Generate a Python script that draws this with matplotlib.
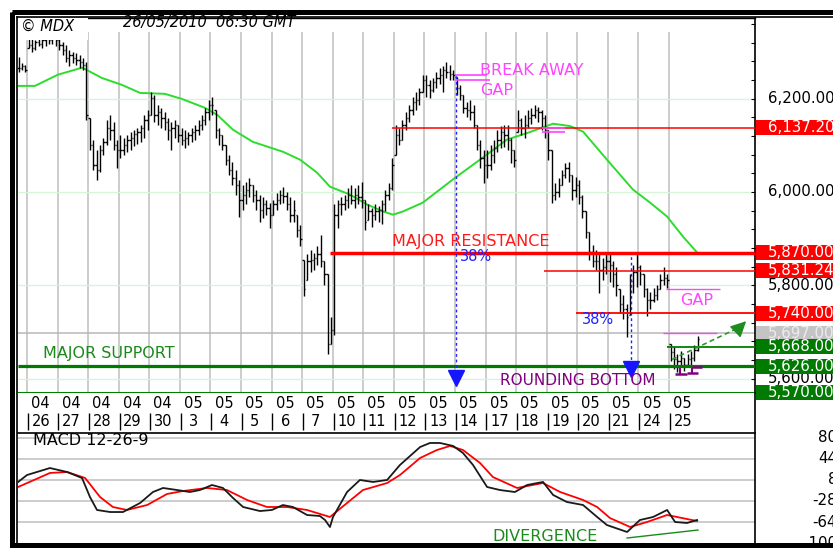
import numpy as np
import matplotlib
matplotlib.use("Agg")
import matplotlib.pyplot as plt
from matplotlib.patches import Rectangle
from matplotlib.transforms import blended_transform_factory

plt.rcParams["font.family"] = "DejaVu Sans"

# ---- data --------------------------------------------------------------
month_labels = ["04", "04", "04", "04", "04", "05", "05", "05", "05", "05", "05",
                "05", "05", "05", "05", "05", "05", "05", "05", "05", "05", "05"]
day_labels = ["26", "27", "28", "29", "30", "3", "4", "5", "6", "7", "10",
              "11", "12", "13", "14", "17", "18", "19", "20", "21", "24", "25"]

# hourly bars, 9 per day; Apr 23 only shows its last three bars
bar_high = [
    6289, 6276, 6272,                                        # Apr 23
    6336, 6330, 6325, 6336, 6334, 6338, 6340, 6347, 6343,    # Apr 26
    6330, 6321, 6315, 6304, 6300, 6298, 6293, 6287, 6278,    # Apr 27
    6159, 6112, 6090, 6101, 6116, 6154, 6165, 6150, 6112,    # Apr 28
    6122, 6116, 6122, 6129, 6133, 6137, 6144, 6165, 6176,    # Apr 29
    6214, 6208, 6186, 6180, 6171, 6159, 6150, 6154, 6144,    # Apr 30
    6137, 6133, 6129, 6137, 6144, 6154, 6165, 6180, 6197,    # May 3
    6204, 6176, 6137, 6122, 6101, 6079, 6064, 6047, 6026,    # May 4
    6015, 6022, 6030, 6015, 6005, 5994, 5988, 5983, 5977,    # May 5
    5983, 5998, 6005, 6011, 6000, 5988, 5983, 5951, 5930,    # May 6
    5855, 5866, 5876, 5870, 5883, 5908, 5851, 5823, 5731,    # May 7
    5973, 5983, 5990, 5994, 6009, 6015, 6009, 6015, 6022,    # May 10
    5983, 5973, 5966, 5973, 5970, 5983, 6005, 6020, 6073,    # May 11
    6144, 6137, 6154, 6171, 6186, 6204, 6214, 6223, 6251,    # May 12
    6251, 6240, 6244, 6257, 6266, 6270, 6278, 6272, 6261,    # May 13
    6246, 6229, 6208, 6193, 6197, 6186, 6144, 6112, 6090,    # May 14
    6090, 6101, 6112, 6133, 6141, 6144, 6144, 6116, 6090,    # May 17
    6176, 6159, 6165, 6176, 6180, 6186, 6182, 6176, 6165,    # May 18
    6133, 6090, 6020, 6030, 6047, 6062, 6064, 6037, 6032,    # May 19
    6026, 5994, 5958, 5915, 5887, 5876, 5866, 5859, 5872,    # May 20
    5866, 5851, 5838, 5791, 5780, 5759, 5823, 5844, 5872,    # May 21
    5844, 5823, 5795, 5786, 5795, 5801, 5823, 5840, 5823,    # May 24
    5673, 5667, 5652, 5658, 5645, 5652, 5658, 5671, 5692,    # May 25
]
bar_low = [
    6257, 6261, 6257,
    6308, 6300, 6304, 6313, 6308, 6313, 6317, 6317, 6313,
    6304, 6293, 6278, 6270, 6276, 6272, 6266, 6261, 6154,
    6090, 6047, 6026, 6043, 6079, 6101, 6112, 6090, 6052,
    6073, 6079, 6086, 6090, 6099, 6103, 6107, 6116, 6133,
    6165, 6150, 6144, 6137, 6133, 6112, 6090, 6116, 6107,
    6101, 6094, 6101, 6107, 6112, 6122, 6133, 6144, 6154,
    6165, 6116, 6101, 6090, 6058, 6037, 6015, 5994, 5947,
    5962, 5973, 5988, 5979, 5962, 5936, 5945, 5951, 5923,
    5951, 5962, 5973, 5977, 5962, 5936, 5936, 5904, 5883,
    5776, 5812, 5829, 5833, 5844, 5838, 5801, 5652, 5673,
    5694, 5923, 5951, 5962, 5966, 5973, 5966, 5973, 5966,
    5919, 5940, 5925, 5940, 5936, 5932, 5958, 5983, 6005,
    6079, 6101, 6112, 6133, 6150, 6165, 6176, 6186, 6214,
    6204, 6201, 6214, 6223, 6231, 6214, 6244, 6240, 6240,
    6208, 6197, 6169, 6161, 6154, 6137, 6090, 6052, 6020,
    6030, 6047, 6062, 6086, 6094, 6097, 6090, 6062, 6054,
    6129, 6122, 6116, 6137, 6146, 6159, 6150, 6133, 6116,
    6069, 5977, 5983, 5990, 6015, 6030, 6022, 5983, 5988,
    5973, 5945, 5902, 5855, 5838, 5833, 5784, 5812, 5823,
    5806, 5797, 5776, 5741, 5727, 5690, 5737, 5784, 5797,
    5801, 5774, 5733, 5748, 5763, 5769, 5791, 5801, 5795,
    5637, 5620, 5615, 5624, 5617, 5624, 5626, 5637, 5658,
]
bar_close = [
    6266, 6270, 6261,
    6315, 6308, 6321, 6317, 6325, 6330, 6325, 6334, 6325,
    6315, 6304, 6287, 6293, 6287, 6283, 6278, 6272, 6165,
    6101, 6058, 6047, 6090, 6107, 6137, 6133, 6101, 6090,
    6090, 6101, 6112, 6116, 6124, 6129, 6137, 6154, 6165,
    6201, 6165, 6171, 6159, 6150, 6133, 6137, 6144, 6122,
    6112, 6116, 6122, 6129, 6133, 6144, 6154, 6171, 6186,
    6186, 6133, 6122, 6101, 6069, 6047, 6030, 6015, 5983,
    5994, 6005, 6015, 5994, 5983, 5962, 5973, 5966, 5951,
    5973, 5983, 5994, 5992, 5973, 5951, 5962, 5919, 5898,
    5791, 5851, 5855, 5859, 5866, 5851, 5823, 5673, 5705,
    5951, 5973, 5973, 5983, 5994, 5983, 5994, 5988, 5983,
    5936, 5958, 5951, 5958, 5962, 5973, 5994, 6009, 6058,
    6122, 6112, 6144, 6159, 6176, 6193, 6197, 6214, 6240,
    6229, 6218, 6236, 6244, 6251, 6261, 6257, 6253, 6251,
    6223, 6208, 6180, 6176, 6171, 6144, 6101, 6073, 6058,
    6058, 6079, 6094, 6112, 6129, 6122, 6112, 6090, 6069,
    6154, 6137, 6144, 6159, 6165, 6176, 6171, 6159, 6133,
    6090, 5994, 6000, 6015, 6037, 6052, 6037, 6005, 6015,
    5988, 5958, 5915, 5872, 5851, 5851, 5833, 5838, 5851,
    5844, 5823, 5801, 5759, 5748, 5731, 5808, 5829, 5838,
    5823, 5791, 5769, 5769, 5780, 5791, 5812, 5816, 5812,
    5656, 5641, 5637, 5645, 5630, 5641, 5645, 5662, 5684,
]

# moving average (green), x in trading-day units
ma_day = [-0.29, 0.26, 1.01, 1.80, 1.96, 2.45, 3.11, 3.70, 4.51, 5.07, 5.82, 6.22,
          6.74, 7.39, 8.37, 8.93, 9.49, 9.91, 10.57, 11.12, 11.65, 11.97, 12.30,
          12.95, 14.00, 14.82, 15.70, 16.36, 17.21, 17.76, 18.19, 18.97, 19.82,
          20.38, 20.94, 21.46, 21.92]
ma_value = [6227, 6227, 6251, 6266, 6261, 6244, 6229, 6212, 6210, 6199, 6180, 6165,
            6133, 6107, 6086, 6069, 6041, 6011, 5994, 5973, 5958, 5951, 5958,
            5977, 6030, 6069, 6112, 6126, 6146, 6141, 6129, 6069, 6005,
            5977, 5947, 5904, 5870]

# MACD 12-26-9
macd_day = [-0.29, 0.00, 0.75, 1.31, 1.80, 2.06, 2.29, 2.72, 3.14, 3.70, 4.12, 4.45,
            4.91, 5.33, 5.66, 6.05, 6.41, 6.74, 7.07, 7.62, 8.01, 8.37, 8.70, 9.16,
            9.58, 9.75, 9.91, 10.01, 10.47, 10.89, 11.32, 11.78, 12.20, 12.86, 13.18,
            13.51, 13.94, 14.26, 14.59, 15.05, 15.47, 15.96, 16.36, 16.88, 17.21,
            17.66, 18.19, 18.65, 18.97, 19.63, 20.05, 20.48, 20.94, 21.20, 21.59, 21.92]
macd_value = [4.6, 16.5, 28.5, 21.7, 11.4, -21.2, -43.4, -46.9, -46.9, -31.4, -12.6, -5.7,
              -9.2, -12.6, -9.2, -0.6, -5.7, -22.9, -38.3, -45.2, -43.4, -34.9, -38.3, -52.0,
              -53.7, -60.6, -72.6, -55.4, -12.6, 8.0, 4.6, 8.0, 33.7, 64.5, 71.4,
              71.4, 66.3, 54.3, 33.7, -4.0, -9.2, -12.6, -0.6, 4.6, -17.7,
              -29.7, -34.9, -55.4, -69.2, -81.1, -60.6, -55.4, -43.4, -64.0, -65.7, -60.6]
signal_day = [-0.29, 0.75, 1.31, 1.90, 2.39, 2.81, 3.27, 3.93, 4.58, 5.10, 5.89, 6.54,
              7.20, 7.85, 8.51, 9.16, 9.91, 10.47, 10.99, 11.78, 12.20, 12.86, 13.41,
              13.84, 14.26, 14.82, 15.24, 16.03, 16.88, 17.44, 18.19, 18.65, 19.07,
              19.73, 20.28, 20.94, 21.59, 21.92]
signal_value = [-4.0, 20.0, 21.7, 11.4, -21.2, -38.3, -43.4, -34.9, -16.0, -10.9, -5.7, -9.2,
                -26.3, -38.3, -38.3, -43.4, -55.4, -31.4, -9.2, 2.8, 16.5, 45.7, 59.4,
                66.3, 59.4, 37.1, 13.1, -5.7, 2.8, -12.6, -26.3, -38.3, -57.2,
                -72.6, -64.0, -52.0, -58.9, -62.3]
macd_ticks = [80, 44, 8, -28, -64, -100]

# price levels shown on the right scale
grid_prices = [6200, 6000, 5800, 5600]
box_prices = [6137.20, 5870.00, 5831.24, 5740.00, 5697.00, 5668.00, 5626.00, 5570.00]
box_colors = ["#ff0000", "#ff0000", "#ff0000", "#ff0000", "#c4c4c4", "#007a00", "#007a00", "#007a00"]
box_text_colors = ["white", "white", "white", "white", "#ececec", "white", "white", "white"]

# ---- layout -------------------------------------------------------------
W, H = 833, 548
fig = plt.figure(figsize=(W / 100, H / 100), dpi=100)


def px_axes(x0, y0, x1, y1):
    return [x0 / W, 1 - y1 / H, (x1 - x0) / W, (y1 - y0) / H]


XLIM = (-0.2944, 23.814)
ax = fig.add_axes(px_axes(18, 18, 755, 393))
ax_d = fig.add_axes(px_axes(18, 393, 755, 432))
ax_m = fig.add_axes(px_axes(18, 433, 755, 545))

# ---- price panel ----------------------------------------------------------
ax.set_xlim(*XLIM)
ax.set_ylim(5569, 6372.5)
ax.set_xticks([])
ax.yaxis.tick_right()
ax.set_yticks(np.arange(5600, 6361, 40))
ax.tick_params(axis="y", direction="in", length=3, width=0.8, labelright=False)
for side in ("left", "bottom"):
    ax.spines[side].set_visible(False)
ax.spines["top"].set_linewidth(1.0)
ax.spines["right"].set_linewidth(1.2)

ax.vlines(np.arange(len(day_labels)), 5569, 6343, color="#c4c4c4", lw=1.2, zorder=1)
ax.hlines(grid_prices, *XLIM, color="#d6f5d6", lw=0.9, zorder=1)

ax.plot(ma_day, ma_value, color="#2edc2e", lw=1.4, zorder=2)

high = np.array(bar_high, float)
low = np.array(bar_low, float)
close = np.array(bar_close, float)
slot = np.arange(len(close)) + 6
bar_x = slot // 9 - 1 + (slot % 9 + 0.5) / 9
opens = np.clip(np.r_[close[0], close[:-1]], low, high)
tw = 0.045
ax.vlines(bar_x, low, high, color="black", lw=1.0, zorder=3)
ax.hlines(opens, bar_x - tw, bar_x, color="black", lw=1.0, zorder=3)
ax.hlines(close, bar_x, bar_x + tw, color="black", lw=1.0, zorder=3)

# support / resistance levels
ax.hlines(6137.20, 11.94, XLIM[1], color="#ff0000", lw=1.1, zorder=4)
ax.hlines(5870.00, 9.91, XLIM[1], color="#ff0000", lw=2.5, zorder=4)
ax.hlines(5831.24, 16.91, XLIM[1], color="#ff0000", lw=1.1, zorder=4)
ax.hlines(5740.00, 17.96, XLIM[1], color="#ff0000", lw=1.3, zorder=4)
ax.hlines(5697.00, *XLIM, color="#b8b8b8", lw=1.1, zorder=1)
ax.hlines(5668.00, 20.94, XLIM[1], color="#008000", lw=1.3, zorder=4)
ax.hlines(5626.00, *XLIM, color="#007a00", lw=2.3, zorder=4)
ax.hlines(5570.00, *XLIM, color="#008000", lw=1.5, zorder=4, clip_on=False)

pink = "#ff44ff"
ax.hlines([6251, 6240], 14.0, [15.05, 15.15], color=pink, lw=1.2, zorder=4)
ax.hlines([6136, 6128], 16.85, 17.6, color=pink, lw=1.2, zorder=4)
ax.hlines(5791, 20.9, 22.67, color=pink, lw=1.0, zorder=4)
ax.hlines(5697, 20.8, 22.57, color=pink, lw=1.0, zorder=4)

blue = "#2020ff"
ax.vlines(14.03, 5612, 6251, color=blue, lw=1.0, linestyles=(0, (2, 2)), zorder=4)
ax.vlines(19.76, 5630, 5866, color=blue, lw=1.0, linestyles=(0, (2, 2)), zorder=4)
ax.plot([14.03], [5601], marker="v", ms=11, color="#1515ff", zorder=5)
ax.plot([19.76], [5621], marker="v", ms=12, color="#1515ff", zorder=5)

ax.plot([21.10, 23.35], [5641, 5711], color="#2a9a2a", lw=1.2, ls=(0, (3, 2)), zorder=5)
ax.annotate("", xy=(23.59, 5727), xytext=(23.2, 5702),
            arrowprops=dict(arrowstyle="-|>", color="#1e8c1e", lw=1.0, mutation_scale=24),
            zorder=5)

purple = "#800080"
ax.hlines([5609, 5611, 5624], [21.2, 21.6, 21.75], [21.6, 21.95, 22.08], color=purple, lw=1.8, zorder=5)
ax.vlines([21.35, 21.75], [5609, 5611], [5622, 5622], color=purple, lw=1.5, zorder=5)

ann = dict(fontsize=11.5, va="center", ha="left", zorder=6)
ax.text(14.82, 6261, "BREAK AWAY", color=pink, **ann)
ax.text(14.82, 6218, "GAP", color=pink, **ann)
ax.text(11.94, 5893, "MAJOR RESISTANCE", color="#ff1a1a", **ann)
ax.text(14.16, 5861, "38%", color=blue, fontsize=10.5, va="center", zorder=6)
ax.text(18.16, 5727, "38%", color=blue, fontsize=10.5, va="center", zorder=6)
ax.text(21.36, 5767, "GAP", color=pink, **ann)
ax.text(0.52, 5654, "MAJOR SUPPORT", color="#1a8a1a", **ann)
ax.text(15.47, 5596, "ROUNDING BOTTOM", color=purple, fontsize=11, va="center", zorder=6)

# right-hand price scale
tr = blended_transform_factory(ax.transAxes, ax.transData)
lab = dict(transform=tr, fontsize=10.8, va="center", ha="left", clip_on=False)
for p in grid_prices:
    ax.text(1.0176, p, f"{p:,.2f}", color="black", zorder=1, **lab)
for p, fc, tc in zip(box_prices, box_colors, box_text_colors):
    ax.add_patch(Rectangle((1.0014, p - 16), 0.2, 32, transform=tr, facecolor=fc,
                           edgecolor="none", clip_on=False, zorder=7))
    ax.text(1.0176, p, f"{p:,.2f}", color=tc, zorder=8, **lab)

# ---- date strip -----------------------------------------------------------
ax_d.set_xlim(*XLIM)
ax_d.set_ylim(39, 0)
ax_d.set_xticks([])
ax_d.set_yticks([])
for side in ("left", "top", "bottom"):
    ax_d.spines[side].set_visible(False)
ax_d.spines["right"].set_linewidth(1.2)
for i, (m, d) in enumerate(zip(month_labels, day_labels)):
    ax_d.text(i + 0.44, 10, m, fontsize=10.5, ha="center", va="center")
    ax_d.text(i + 0.45, 28.5, d, fontsize=10.5, ha="center", va="center")
ax_d.vlines(np.arange(len(day_labels)) + 0.03, 20, 37, color="black", lw=1.0)

# ---- MACD panel -----------------------------------------------------------
ax_m.set_xlim(*XLIM)
ax_m.set_ylim(-103.4, 88.5)
ax_m.set_xticks([])
ax_m.set_yticks([])
for side in ("left", "bottom"):
    ax_m.spines[side].set_visible(False)
ax_m.spines["top"].set_linewidth(1.2)
ax_m.spines["right"].set_linewidth(1.2)
ax_m.hlines(macd_ticks[:-1], *XLIM, color="#c8c8c8", lw=1.3, zorder=1)
ax_m.plot(macd_day, macd_value, color="#1a1a1a", lw=1.3, zorder=3)
ax_m.plot(signal_day, signal_value, color="#ff0000", lw=1.3, zorder=2)
ax_m.text(0.2, 74.8, "MACD 12-26-9", fontsize=11.5, va="center")
ax_m.text(15.21, -88, "DIVERGENCE", color="#1a8a1a", fontsize=11.5, va="center")
ax_m.plot([19.63, 21.95], [-91.4, -77.7], color="#1a8a1a", lw=1.0)
trm = blended_transform_factory(ax_m.transAxes, ax_m.transData)
for v in macd_ticks:
    ax_m.text(1.1113, v, str(v), transform=trm, fontsize=10.8, ha="right", va="center",
              clip_on=False)

# ---- header and outer frame -----------------------------------------------
ov = fig.add_axes([0, 0, 1, 1], zorder=10)
ov.set_xlim(0, W)
ov.set_ylim(H, 0)
ov.axis("off")
ov.add_patch(Rectangle((18, 18), 70, 22, facecolor="white", edgecolor="none"))
ov.text(21, 26, "\u00a9 MDX", fontsize=10.5, style="italic", va="center")
ov.text(123, 23, "26/05/2010  06:30 GMT", fontsize=10.5, style="italic", va="center")
ov.add_patch(Rectangle((12, 12), 840, 533, fill=False, edgecolor="black", lw=3.6))
ov.plot([17, 840], [17, 17], color="black", lw=1.2)
ov.plot([17, 17], [17, 545], color="black", lw=1.2)

fig.savefig("out.png", dpi=100)
